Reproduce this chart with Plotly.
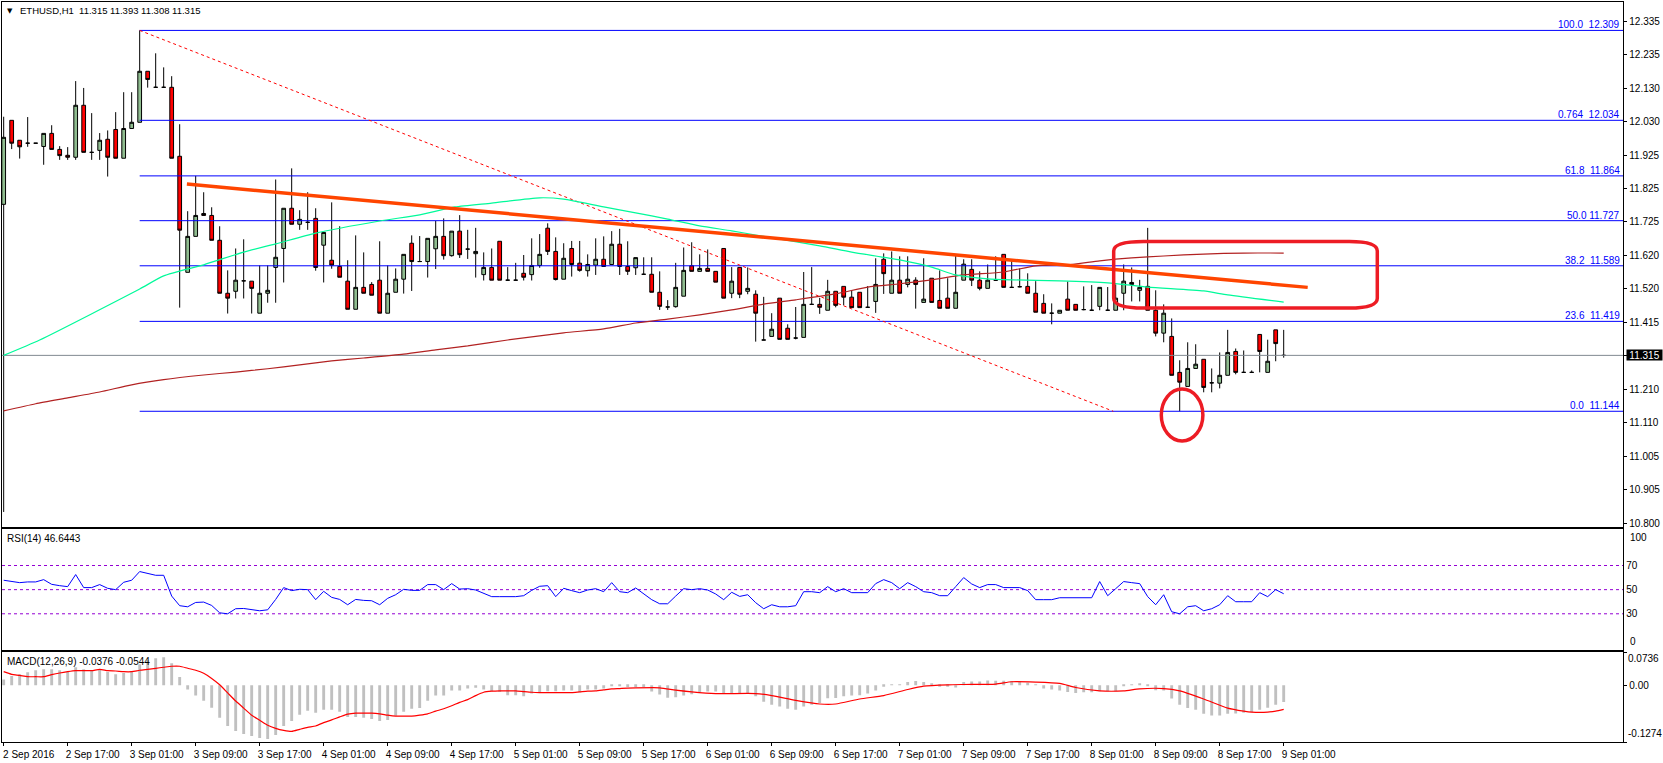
import plotly.graph_objects as go
from plotly.subplots import make_subplots

# ETHUSD H1 chart: candles with fib levels, RSI(14) and MACD(12,26,9) panes

WIDTH, HEIGHT = 1663, 763
FONT = "Liberation Sans"

BAR_OPEN = [
    11.777, 12.034, 11.973, 11.964, 11.964, 11.954, 11.994, 11.945, 11.927, 11.921,
    12.080, 11.936, 11.942, 11.976, 12.006, 11.918, 12.009, 12.028, 12.184, 12.135,
    12.135, 12.135, 11.924, 11.569, 11.679, 11.749, 11.743, 11.667, 11.505, 11.511,
    11.543, 11.542, 11.444, 11.505, 11.584, 11.642, 11.765, 11.716, 11.722, 11.734,
    11.652, 11.606, 11.587, 11.542, 11.456, 11.523, 11.532, 11.545, 11.444, 11.508,
    11.548, 11.658, 11.602, 11.602, 11.641, 11.679, 11.620, 11.695, 11.640, 11.626,
    11.562, 11.584, 11.664, 11.545, 11.545, 11.566, 11.562, 11.590, 11.704, 11.633,
    11.548, 11.642, 11.597, 11.574, 11.591, 11.609, 11.593, 11.655, 11.587, 11.583,
    11.563, 11.563, 11.508, 11.463, 11.464, 11.496, 11.589, 11.572, 11.581, 11.572,
    11.642, 11.505, 11.584, 11.511, 11.502, 11.362, 11.373, 11.490, 11.398, 11.368,
    11.370, 11.471, 11.471, 11.453, 11.511, 11.526, 11.493, 11.508, 11.462, 11.480,
    11.609, 11.505, 11.545, 11.532, 11.545, 11.477, 11.551, 11.483, 11.490, 11.459,
    11.545, 11.578, 11.545, 11.520, 11.545, 11.624, 11.523, 11.525, 11.526, 11.505,
    11.474, 11.444, 11.444, 11.487, 11.471, 11.455, 11.453, 11.465, 11.453, 11.453,
    11.505, 11.538, 11.514, 11.526, 11.453, 11.383, 11.373, 11.263, 11.220, 11.275,
    11.303, 11.231, 11.230, 11.254, 11.327, 11.263, 11.263, 11.379, 11.263, 11.393,
    11.315,
]
BAR_HIGH = [
    12.045, 12.034, 11.973, 12.044, 11.964, 11.994, 12.019, 11.955, 11.952, 12.154,
    12.133, 12.056, 11.995, 12.003, 12.059, 12.120, 12.120, 12.309, 12.184, 12.239,
    12.196, 12.169, 12.022, 11.756, 11.864, 11.814, 11.768, 11.710, 11.575, 11.642,
    11.670, 11.542, 11.590, 11.590, 11.853, 11.765, 11.887, 11.759, 11.814, 11.765,
    11.691, 11.783, 11.710, 11.606, 11.682, 11.630, 11.539, 11.664, 11.590, 11.581,
    11.624, 11.682, 11.680, 11.673, 11.726, 11.734, 11.695, 11.744, 11.699, 11.705,
    11.630, 11.642, 11.664, 11.585, 11.598, 11.622, 11.673, 11.686, 11.719, 11.676,
    11.658, 11.665, 11.665, 11.624, 11.673, 11.679, 11.695, 11.702, 11.664, 11.614,
    11.615, 11.615, 11.572, 11.484, 11.598, 11.645, 11.661, 11.624, 11.639, 11.572,
    11.642, 11.585, 11.584, 11.584, 11.514, 11.494, 11.444, 11.490, 11.410, 11.463,
    11.570, 11.585, 11.491, 11.546, 11.511, 11.526, 11.515, 11.508, 11.527, 11.612,
    11.627, 11.633, 11.618, 11.618, 11.554, 11.612, 11.551, 11.575, 11.551, 11.621,
    11.609, 11.609, 11.572, 11.593, 11.618, 11.624, 11.607, 11.581, 11.566, 11.542,
    11.502, 11.474, 11.453, 11.541, 11.471, 11.526, 11.530, 11.523, 11.524, 11.532,
    11.593, 11.584, 11.546, 11.705, 11.514, 11.471, 11.428, 11.300, 11.355, 11.349,
    11.303, 11.275, 11.324, 11.393, 11.336, 11.330, 11.269, 11.379, 11.363, 11.393,
    11.393,
]
BAR_LOW = [
    10.836, 11.946, 11.917, 11.953, 11.964, 11.898, 11.945, 11.913, 11.913, 11.913,
    11.936, 11.913, 11.913, 11.862, 11.918, 11.918, 12.009, 12.028, 12.134, 12.135,
    12.135, 11.918, 11.461, 11.569, 11.679, 11.743, 11.667, 11.505, 11.443, 11.489,
    11.489, 11.443, 11.444, 11.476, 11.476, 11.538, 11.716, 11.699, 11.699, 11.574,
    11.538, 11.580, 11.554, 11.456, 11.456, 11.505, 11.499, 11.444, 11.444, 11.508,
    11.504, 11.512, 11.602, 11.553, 11.579, 11.608, 11.617, 11.613, 11.610, 11.553,
    11.544, 11.545, 11.545, 11.545, 11.545, 11.544, 11.544, 11.583, 11.622, 11.544,
    11.548, 11.556, 11.571, 11.556, 11.561, 11.586, 11.593, 11.561, 11.561, 11.561,
    11.563, 11.508, 11.454, 11.454, 11.461, 11.496, 11.572, 11.572, 11.572, 11.539,
    11.490, 11.490, 11.490, 11.502, 11.357, 11.362, 11.373, 11.364, 11.364, 11.364,
    11.370, 11.471, 11.442, 11.453, 11.462, 11.468, 11.461, 11.461, 11.462, 11.445,
    11.503, 11.505, 11.505, 11.523, 11.458, 11.477, 11.477, 11.459, 11.459, 11.459,
    11.545, 11.527, 11.514, 11.520, 11.545, 11.523, 11.523, 11.523, 11.505, 11.447,
    11.444, 11.410, 11.444, 11.453, 11.453, 11.453, 11.453, 11.453, 11.453, 11.453,
    11.453, 11.480, 11.480, 11.453, 11.373, 11.355, 11.254, 11.144, 11.220, 11.275,
    11.202, 11.202, 11.214, 11.254, 11.257, 11.263, 11.263, 11.263, 11.263, 11.297,
    11.308,
]
BAR_CLOSE = [
    11.982, 11.964, 11.953, 11.964, 11.964, 11.994, 11.945, 11.926, 11.921, 12.080,
    11.936, 11.936, 11.973, 11.921, 11.918, 12.009, 12.028, 12.184, 12.159, 12.135,
    12.135, 11.918, 11.698, 11.679, 11.743, 11.743, 11.667, 11.505, 11.490, 11.545,
    11.543, 11.520, 11.505, 11.514, 11.615, 11.765, 11.716, 11.731, 11.722, 11.584,
    11.691, 11.591, 11.554, 11.456, 11.523, 11.505, 11.499, 11.444, 11.505, 11.548,
    11.624, 11.602, 11.602, 11.673, 11.679, 11.620, 11.695, 11.623, 11.640, 11.633,
    11.584, 11.545, 11.545, 11.545, 11.545, 11.554, 11.590, 11.624, 11.633, 11.547,
    11.612, 11.593, 11.575, 11.593, 11.609, 11.587, 11.655, 11.587, 11.572, 11.614,
    11.563, 11.508, 11.465, 11.463, 11.523, 11.575, 11.572, 11.581, 11.572, 11.539,
    11.490, 11.542, 11.502, 11.520, 11.444, 11.362, 11.395, 11.364, 11.364, 11.368,
    11.471, 11.471, 11.462, 11.511, 11.468, 11.493, 11.461, 11.461, 11.462, 11.532,
    11.565, 11.545, 11.505, 11.548, 11.532, 11.487, 11.477, 11.459, 11.459, 11.508,
    11.594, 11.545, 11.520, 11.545, 11.545, 11.523, 11.523, 11.525, 11.505, 11.447,
    11.444, 11.444, 11.453, 11.453, 11.453, 11.455, 11.453, 11.523, 11.453, 11.490,
    11.542, 11.532, 11.523, 11.453, 11.383, 11.444, 11.254, 11.233, 11.275, 11.288,
    11.217, 11.231, 11.254, 11.324, 11.263, 11.263, 11.263, 11.327, 11.297, 11.351,
    11.315,
]

# moving averages, read at their visible bends (bar number, price)
MA_FAST_BARS = [0, 4.5, 17, 20, 25, 30, 34, 39, 47, 52, 56.4, 61, 67, 70, 75, 79, 83, 87, 91,
                94, 102, 106, 112, 116, 119, 123, 126, 132, 138, 143, 150, 153, 160]
MA_FAST = [11.315, 11.362, 11.518, 11.558, 11.592, 11.631, 11.656, 11.689, 11.726, 11.745,
           11.769, 11.781, 11.797, 11.793, 11.769, 11.751, 11.732, 11.711, 11.696,
           11.683, 11.650, 11.631, 11.607, 11.585, 11.561, 11.549, 11.546, 11.543, 11.537,
           11.524, 11.512, 11.500, 11.478]
MA_SLOW_BARS = [0, 4, 8, 12, 16, 20, 25, 29, 33, 37, 41, 45, 50, 54, 58, 63, 70, 75, 79, 83, 87,
                91, 95, 99, 104, 108, 112, 116, 120, 125, 129, 133, 137, 141, 145, 150, 155, 160]
MA_SLOW = [11.145, 11.167, 11.185, 11.203, 11.225, 11.241, 11.255, 11.264, 11.274, 11.286,
           11.298, 11.307, 11.319, 11.332, 11.344, 11.362, 11.384, 11.396, 11.414, 11.426,
           11.439, 11.454, 11.472, 11.485, 11.503, 11.524, 11.534, 11.546, 11.561, 11.570,
           11.589, 11.592, 11.604, 11.613, 11.619, 11.625, 11.628, 11.628]

FIB_LEVELS = [12.309, 12.034, 11.864, 11.727, 11.589, 11.419, 11.144]
FIB_LABELS = ["100.0  12.309", "0.764  12.034", "61.8  11.864", "50.0 11.727",
              "38.2  11.589", "23.6  11.419", "0.0  11.144"]
FIB_START = 17

TREND_BARS = [22.9, 163.0]
TREND_PRICE = [11.839, 11.523]
DOWN_BARS = [17, 138.7]
DOWN_PRICE = [12.309, 11.144]
LAST_PRICE = 11.315

PRICE_TICKS = [12.335, 12.235, 12.130, 12.030, 11.925, 11.825, 11.725, 11.620,
               11.520, 11.415, 11.315, 11.210, 11.110, 11.005, 10.905, 10.800]

RSI = [
    57.8, 57.0, 55.8, 56.4, 56.4, 58.3, 54.4, 53.3, 52.5, 62.5,
    51.7, 51.7, 54.2, 51.1, 50.0, 56.1, 57.8, 65.0, 63.3, 61.9,
    61.9, 44.7, 36.7, 35.8, 39.4, 39.7, 36.9, 30.8, 30.0, 34.2,
    34.4, 33.6, 32.5, 33.3, 41.9, 51.7, 49.2, 50.3, 50.0, 41.7,
    48.6, 43.6, 41.9, 37.5, 41.9, 41.1, 40.8, 37.5, 42.8, 45.8,
    50.3, 49.4, 49.4, 54.2, 54.2, 50.0, 55.0, 50.5, 50.8, 49.7,
    46.7, 44.2, 44.2, 44.2, 44.2, 45.0, 49.4, 52.8, 53.3, 44.2,
    51.1, 49.2, 47.5, 49.7, 50.8, 48.3, 55.8, 48.3, 47.5, 51.4,
    46.7, 41.7, 38.3, 38.3, 44.7, 50.8, 50.0, 50.8, 49.7, 46.4,
    41.7, 47.8, 44.4, 45.8, 39.2, 34.2, 37.5, 35.8, 35.8, 36.7,
    48.3, 48.3, 47.5, 52.5, 48.3, 50.8, 47.5, 47.5, 47.5, 55.0,
    58.3, 55.8, 50.8, 55.8, 52.5, 48.3, 47.5, 45.0, 45.0, 52.5,
    60.0, 54.7, 51.7, 54.2, 54.2, 51.7, 51.7, 51.7, 49.2, 41.7,
    41.7, 41.7, 43.3, 43.3, 43.3, 43.3, 43.3, 56.7, 45.0, 50.8,
    56.7, 55.8, 55.0, 44.2, 37.5, 45.8, 31.7, 30.0, 35.8, 36.7,
    32.5, 34.2, 37.5, 45.0, 40.0, 40.0, 40.0, 47.5, 44.2, 50.0,
    46.6,
]
RSI_LEVELS = [70, 50, 30]

MACD_HIST = [
    .0128, .0204, .0242, .0287, .0333, .0355, .0355, .0333, .0302, .0401,
    .0355, .0325, .0355, .0295, .0242, .0272, .0317, .0469, .0559, .0605,
    .0627, .0491, .0181, -.0098, -.0234, -.0348, -.0506, -.0733, -.0915, -.1028,
    -.1096, -.1141, -.1187, -.1209, -.1119, -.0915, -.0801, -.0665, -.0574, -.0620,
    -.0552, -.0552, -.0597, -.0711, -.0711, -.0733, -.0756, -.0801, -.0779, -.0688,
    -.0597, -.0529, -.0514, -.0348, -.0234, -.0234, -.0121, -.0121, -.0076, -.0060,
    -.0098, -.0136, -.0151, -.0227, -.0227, -.0249, -.0189, -.0159, -.0136, -.0136,
    -.0121, -.0121, -.0159, -.0098, -.0098, -.0076, -.0023, -.0023, -.0040, -.0040,
    -.0040, -.0144, -.0212, -.0280, -.0272, -.0234, -.0204, -.0159, -.0144, -.0144,
    -.0189, -.0189, -.0189, -.0189, -.0249, -.0370, -.0438, -.0476, -.0529, -.0552,
    -.0476, -.0438, -.0401, -.0295, -.0287, -.0249, -.0234, -.0227, -.0189, -.0121,
    -.0038, .0008, .0015, .0068, .0091, .0068, .0023, -.0038, -.0038, -.0053,
    .0068, .0083, .0083, .0106, .0098, .0098, .0091, .0083, .0053, .0008,
    -.0076, -.0098, -.0121, -.0151, -.0174, -.0159, -.0159, -.0136, -.0136, -.0136,
    -.0023, .0008, .0030, -.0023, -.0113, -.0121, -.0302, -.0438, -.0514, -.0552,
    -.0642, -.0680, -.0680, -.0642, -.0635, -.0620, -.0605, -.0552, -.0506, -.0438,
    -.0376,
]
SIGNAL_BARS = list(range(0, 79)) + [82, 84, 86, 89, 94, 96, 99, 102, 104, 107, 110, 113, 115, 118,
                                    120, 124, 126, 129, 132, 134, 137, 140, 142, 145, 147, 150,
                                    153, 155, 156, 158, 159, 160]
MACD_SIGNAL = [
    .0302, .0242, .0219, .0189, .0189, .0189, .0234, .0272, .0302, .0325,
    .0325, .0325, .0355, .0325, .0317, .0302, .0302, .0333, .0355, .0378,
    .0401, .0423, .0423, .0378, .0333, .0265, .0151, .0008, -.0174, -.0355,
    -.0514, -.0673, -.0786, -.0899, -.0968, -.1013, -.1036, -.0990, -.0945, -.0915,
    -.0839, -.0779, -.0711, -.0650, -.0627, -.0627, -.0627, -.0642, -.0673, -.0695,
    -.0695, -.0695, -.0673, -.0642, -.0582, -.0529, -.0461, -.0386, -.0325, -.0234,
    -.0159, -.0136, -.0128, -.0128, -.0128, -.0144, -.0159, -.0166, -.0166, -.0166,
    -.0166, -.0166, -.0151, -.0136, -.0128, -.0106, -.0083, -.0076, -.0068,
    -.0060, -.0113, -.0151, -.0189, -.0189, -.0234, -.0340, -.0423, -.0423, -.0310,
    -.0234, -.0098, -.0023, .0008, .0015, .0023, .0076, .0068, .0038, -.0053,
    -.0128, -.0128, -.0083, -.0076, -.0128, -.0310, -.0514, -.0582, -.0605, -.0605,
    -.0582, -.0544,
]
MACD_TICKS = [0.0736, 0, -0.1274]

TIME_LABELS = ["2 Sep 2016", "2 Sep 17:00", "3 Sep 01:00", "3 Sep 09:00", "3 Sep 17:00",
               "4 Sep 01:00", "4 Sep 09:00", "4 Sep 17:00", "5 Sep 01:00", "5 Sep 09:00",
               "5 Sep 17:00", "6 Sep 01:00", "6 Sep 09:00", "6 Sep 17:00", "7 Sep 01:00",
               "7 Sep 09:00", "7 Sep 17:00", "8 Sep 01:00", "8 Sep 09:00", "8 Sep 17:00",
               "9 Sep 01:00"]

# hand drawn red marks on the chart
BOX_BARS = [138.75, 142.5, 168.2, 171.7]
BOX_PRICE = [11.663, 11.634, 11.490, 11.460]
CIRCLE_BARS = [144.7, 149.9]
CIRCLE_PRICE = [11.053, 11.212]

for col in (BAR_HIGH, BAR_LOW, BAR_CLOSE, RSI, MACD_HIST):
    assert len(col) == len(BAR_OPEN), len(col)
assert len(SIGNAL_BARS) == len(MACD_SIGNAL), (len(SIGNAL_BARS), len(MACD_SIGNAL))
assert len(MA_FAST_BARS) == len(MA_FAST) and len(MA_SLOW_BARS) == len(MA_SLOW)

bars = list(range(len(BAR_OPEN)))
x_range = [-0.21, 202.45]


def px_x(px):
    return px / WIDTH


def px_y(py):
    return 1 - py / HEIGHT


fig = make_subplots(rows=3, cols=1, shared_xaxes=True)

fig.add_trace(
    go.Candlestick(
        x=bars, open=BAR_OPEN, high=BAR_HIGH, low=BAR_LOW, close=BAR_CLOSE,
        increasing=dict(fillcolor="#8fbc8f", line=dict(color="black", width=1)),
        decreasing=dict(fillcolor="#ff0000", line=dict(color="black", width=1)),
        whiskerwidth=0,
    ),
    row=1, col=1,
)
fig.add_trace(go.Scatter(x=x_range, y=[LAST_PRICE, LAST_PRICE], mode="lines",
                         line=dict(color="#808890", width=1)), row=1, col=1)
for level in FIB_LEVELS:
    fig.add_trace(go.Scatter(x=[FIB_START, x_range[1]], y=[level, level], mode="lines",
                             line=dict(color="#0000ff", width=1)), row=1, col=1)
fig.add_trace(go.Scatter(x=DOWN_BARS, y=DOWN_PRICE, mode="lines",
                         line=dict(color="#ff0000", width=1, dash="3px,3px")), row=1, col=1)
fig.add_trace(go.Scatter(x=MA_SLOW_BARS, y=MA_SLOW, mode="lines",
                         line=dict(color="#b22222", width=1.2, shape="spline", smoothing=0.6)), row=1, col=1)
fig.add_trace(go.Scatter(x=MA_FAST_BARS, y=MA_FAST, mode="lines",
                         line=dict(color="#00fa9a", width=1.2, shape="spline", smoothing=0.6)), row=1, col=1)
fig.add_trace(go.Scatter(x=TREND_BARS, y=TREND_PRICE, mode="lines",
                         line=dict(color="#ff4500", width=3.5)), row=1, col=1)

for level in RSI_LEVELS:
    fig.add_trace(go.Scatter(x=x_range, y=[level, level], mode="lines",
                             line=dict(color="#9400d3", width=1, dash="3px,3px")), row=2, col=1)
fig.add_trace(go.Scatter(x=bars, y=RSI, mode="lines", line=dict(color="#0000ff", width=1)),
              row=2, col=1)

fig.add_trace(go.Bar(x=bars, y=MACD_HIST, width=0.36, marker=dict(color="#c0c0c0", line_width=0)),
              row=3, col=1)
fig.add_trace(go.Scatter(x=SIGNAL_BARS, y=MACD_SIGNAL, mode="lines",
                         line=dict(color="#ff0000", width=1.2, shape="spline", smoothing=0.6)), row=3, col=1)

# red rounded box and circle around the marked areas
bx, by = BOX_BARS, BOX_PRICE
box_path = (
    f"M {bx[0]},{by[1]} Q {bx[0]},{by[0]} {bx[1]},{by[0]} L {bx[2]},{by[0]} "
    f"Q {bx[3]},{by[0]} {bx[3]},{by[1]} L {bx[3]},{by[2]} Q {bx[3]},{by[3]} {bx[2]},{by[3]} "
    f"L {bx[1]},{by[3]} Q {bx[0]},{by[3]} {bx[0]},{by[2]} Z"
)
fig.add_shape(type="path", path=box_path, xref="x", yref="y",
              line=dict(color="#ed1c24", width=3.5))
fig.add_shape(type="circle", xref="x", yref="y", x0=CIRCLE_BARS[0], x1=CIRCLE_BARS[1],
              y0=CIRCLE_PRICE[0], y1=CIRCLE_PRICE[1], line=dict(color="#ed1c24", width=3.5))

axis_style = dict(showgrid=False, zeroline=False, showline=True, mirror=True, automargin=False,
                  linecolor="black", linewidth=1, tickcolor="black", tickfont=dict(size=10, color="black"))

fig.update_xaxes(range=x_range, domain=[px_x(2), px_x(1623.3)], rangeslider_visible=False, **axis_style)
fig.update_xaxes(tickmode="array", tickvals=bars[::8], ticktext=TIME_LABELS, ticks="outside", ticklen=3,
                 ticklabelshift=25, tickangle=0, row=3, col=1)

fig.update_yaxes(side="right", **axis_style)
fig.update_yaxes(range=[10.790, 12.395], domain=[px_y(527), px_y(2.3)], tickmode="array",
                 tickvals=PRICE_TICKS, ticktext=[f"{t:.3f}" if t != LAST_PRICE else " " for t in PRICE_TICKS],
                 ticks="outside", ticklen=3, row=1, col=1)
fig.update_yaxes(range=[0, 100], domain=[px_y(650), px_y(529.3)], tickmode="array",
                 tickvals=RSI_LEVELS, ticktext=[str(v) for v in RSI_LEVELS], row=2, col=1)
fig.update_yaxes(range=[-0.1274, 0.0736], domain=[px_y(742), px_y(652.3)], tickmode="array",
                 tickvals=MACD_TICKS, ticktext=[" ", "0.00", " "], ticks="outside", ticklen=3,
                 row=3, col=1)

for level, label in zip(FIB_LEVELS, FIB_LABELS):
    fig.add_annotation(x=px_x(1622), y=level, xref="paper", yref="y", text=label, showarrow=False,
                       xanchor="right", yanchor="bottom", yshift=-2,
                       font=dict(family=FONT, size=10, color="#0000ff"))

fig.add_annotation(x=px_x(1625.5), y=LAST_PRICE, xref="paper", yref="y", text="11.315", showarrow=False,
                   xanchor="left", yanchor="middle", bgcolor="black", width=35, height=10, align="center",
                   borderpad=0, font=dict(family=FONT, size=10, color="white"))

fig.add_annotation(x=px_x(1628), y=100, xref="paper", yref="y2", text="100", showarrow=False,
                   xanchor="left", yanchor="top", yshift=-1, font=dict(family=FONT, size=10, color="black"))
fig.add_annotation(x=px_x(1628), y=0, xref="paper", yref="y2", text="0", showarrow=False,
                   xanchor="left", yanchor="bottom", yshift=1, font=dict(family=FONT, size=10, color="black"))
fig.add_annotation(x=px_x(1626), y=MACD_TICKS[0], xref="paper", yref="y3", text="0.0736", showarrow=False,
                   xanchor="left", yanchor="top", yshift=1, font=dict(family=FONT, size=10, color="black"))
fig.add_annotation(x=px_x(1626), y=MACD_TICKS[2], xref="paper", yref="y3", text="-0.1274", showarrow=False,
                   xanchor="left", yanchor="bottom", yshift=1, font=dict(family=FONT, size=10, color="black"))

pane_titles = [
    (18, 10.5, "ETHUSD,H1  11.315 11.393 11.308 11.315", 9.5),
    (5, 538, "RSI(14) 46.6443", 10),
    (5, 661.5, "MACD(12,26,9) -0.0376 -0.0544", 10),
]
for tx, ty, label, size in pane_titles:
    fig.add_annotation(x=px_x(tx), y=px_y(ty), xref="paper", yref="paper", text=label, showarrow=False,
                       xanchor="left", yanchor="middle", font=dict(family=FONT, size=size, color="black"))
fig.add_annotation(x=px_x(9.5), y=px_y(10.5), xref="paper", yref="paper", text="▼", showarrow=False,
                   xanchor="center", yanchor="middle", font=dict(family="DejaVu Sans", size=7, color="black"))

fig.update_layout(
    width=WIDTH, height=HEIGHT, margin=dict(l=0, r=0, t=0, b=0),
    paper_bgcolor="white", plot_bgcolor="white", showlegend=False,
    font=dict(family=FONT, size=10, color="black"), boxgap=0.33,
)

fig.write_html("out.html", config=dict(displayModeBar=False),
               post_script="document.body.style.margin='0';document.body.style.overflow='hidden';")
